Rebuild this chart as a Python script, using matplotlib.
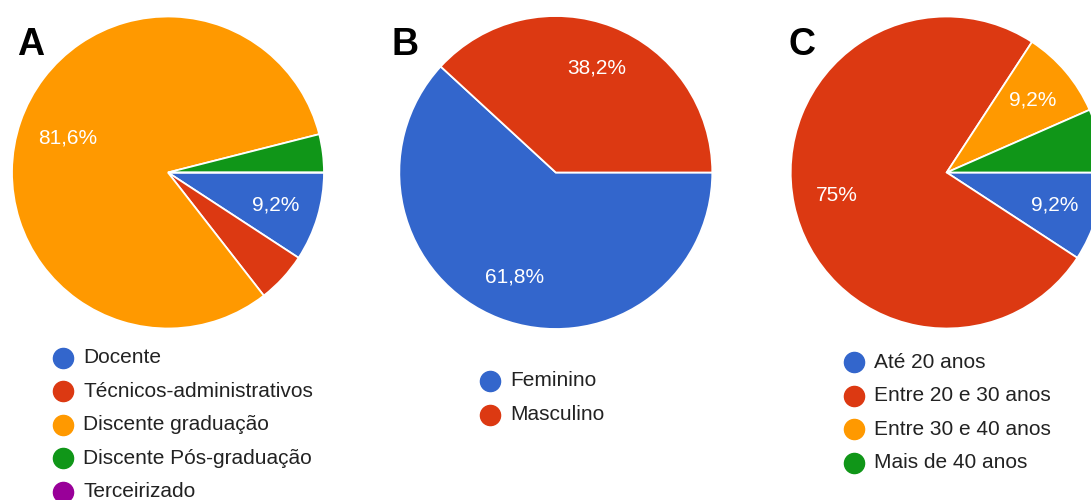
import matplotlib
matplotlib.use("Agg")
import matplotlib.pyplot as plt
from matplotlib.lines import Line2D
import numpy as np

plt.rcParams['font.family'] = ['Liberation Sans', 'DejaVu Sans']

W, H = 1091, 500

# respondents per category (76 in total)
vinculo_labels = ["Docente", "Técnicos-administrativos", "Discente graduação",
                  "Discente Pós-graduação", "Terceirizado"]
vinculo_counts = [7, 4, 62, 3, 0]

sexo_labels = ["Feminino", "Masculino"]
sexo_counts = [47, 29]

idade_labels = ["Até 20 anos", "Entre 20 e 30 anos", "Entre 30 e 40 anos",
                "Mais de 40 anos"]
idade_counts = [7, 57, 7, 5]

blue, red, orange, green, purple = "#3366cc", "#dc3912", "#ff9900", "#109618", "#990099"
vinculo_colors = [blue, red, orange, green, purple]
sexo_colors = [blue, red]
idade_colors = [blue, red, orange, green]

fig = plt.figure(figsize=(W / 100, H / 100), dpi=100)


def px(x, y):
    return x / W, 1 - y / H


def fmt_pct(p):
    s = f"{p:.1f}".replace(".", ",")
    if s.endswith(",0"):
        s = s[:-2]
    return s + "%"


def draw_pie(cx, cy, r, counts, colors, letter, lx, ly, dist=0.72):
    s = 175
    ax = fig.add_axes([(cx - s) / W, 1 - (cy + s) / H, 2 * s / W, 2 * s / H])
    wedges, _ = ax.pie(counts, colors=colors, startangle=0, counterclock=False,
                       radius=1, wedgeprops=dict(edgecolor="white", linewidth=1.3))
    total = sum(counts)
    for w, c in zip(wedges, counts):
        pct = c / total * 100
        if pct < 8:
            continue
        # big slices get their label pulled a little towards the centre
        d = dist - 0.04 if pct > 80 else dist
        ang = np.deg2rad((w.theta1 + w.theta2) / 2)
        ax.text(d * np.cos(ang), d * np.sin(ang), fmt_pct(pct),
                color="white", fontsize=15, ha="center", va="center")
    ax.set_xlim(-s / r, s / r)
    ax.set_ylim(-s / r, s / r)
    ax.set_aspect("equal")
    ax.axis("off")
    fig.text(*px(lx, ly), letter, fontsize=27, fontweight="bold",
             ha="left", va="baseline", color="black")


def draw_legend(x, y0, labels, colors, step=33.6):
    for i, (lab, col) in enumerate(zip(labels, colors)):
        y = y0 + i * step
        fig.add_artist(Line2D([x / W], [1 - y / H], marker="o", markersize=14.5,
                              color=col, linestyle="none",
                              transform=fig.transFigure))
        fig.text(*px(x + 20, y), lab, fontsize=15, color="#222222",
                 ha="left", va="center")


draw_pie(168, 172.5, 156, vinculo_counts, vinculo_colors, "A", 17, 55)
draw_pie(555.8, 172.5, 156.5, sexo_counts, sexo_colors, "B", 392, 55)
draw_pie(946.7, 172.5, 156, idade_counts, idade_colors, "C", 789, 55)

draw_legend(63, 357.5, vinculo_labels, vinculo_colors)
draw_legend(490, 381, sexo_labels, sexo_colors)
draw_legend(854, 362, idade_labels, idade_colors)

fig.savefig("out.png", dpi=100, facecolor="white")
